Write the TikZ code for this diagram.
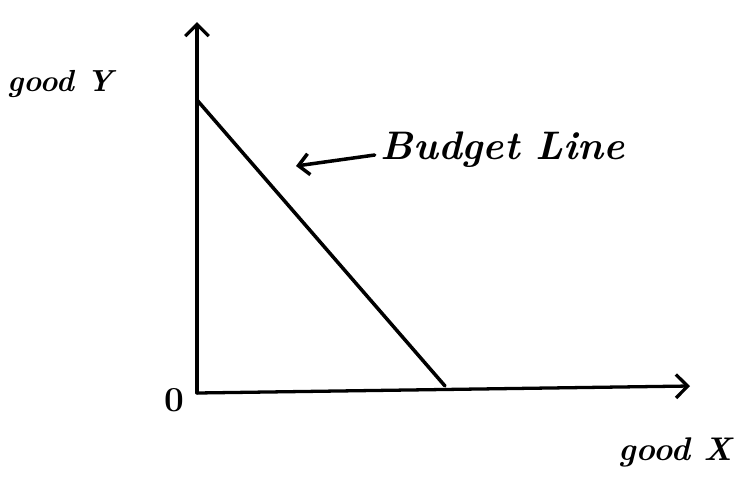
\documentclass[tikz,border=0pt]{standalone}
\usetikzlibrary{arrows.meta, positioning}

\begin{document}
\begin{tikzpicture}[
    x=0.03cm, y=-0.03cm,
    axis/.style={line width=2.8pt, line cap=round, -{Straight Barb[length=10pt, width=20pt, line width=2.8pt]}},
    budget/.style={line width=3pt, line cap=round},
    arrow/.style={line width=3pt, line cap=round, -{Straight Barb[length=9pt, width=18pt, line width=3pt]}},
    label_node/.style={font=\itshape\bfseries, inner sep=0pt}
]
\useasboundingbox (0,0) rectangle (743,495);

% --- Axes ---
\coordinate (origin) at (197,393);
\coordinate (y_top) at (197,22);
\coordinate (x_end) at (690,386);
\draw[axis] (origin) -- (y_top);
\draw[axis] (origin) -- (x_end);

% --- Budget line ---
\coordinate (bl_y) at (197,100);
\coordinate (bl_x) at (445,386);
\draw[budget] (bl_y) -- (bl_x);

% --- Labels ---
\node[label_node, font=\fontsize{34}{38}\selectfont\itshape\bfseries] (lab_budget) at (503,150) {Budget Line};
\coordinate (lab_tip) at (296,166);
\draw[arrow] (lab_budget.west) ++(-6,5) coordinate (lab_start) -- (lab_tip);
\node[label_node, font=\fontsize{26}{30}\selectfont\itshape\bfseries] (lab_y) at (60,84) {good Y};
\node[label_node, font=\fontsize{28}{32}\selectfont\itshape\bfseries] (lab_x) at (675,452) {good X};
\node[label_node, font=\fontsize{30}{34}\selectfont\bfseries, left=12 of origin, yshift=-6] (lab_o) {0};

\end{tikzpicture}
\end{document}
